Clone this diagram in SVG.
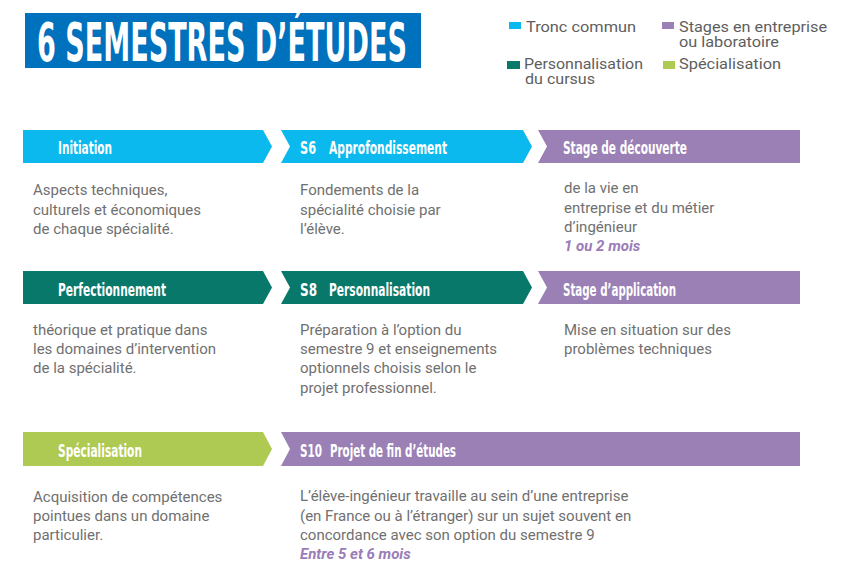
<svg xmlns="http://www.w3.org/2000/svg" width="852" height="563" viewBox="0 0 852 563">
<style>
.hd{font-family:"Liberation Sans Narrow","DejaVu Sans Condensed","Arial Narrow",sans-serif;font-weight:bold;font-size:18px;fill:#fff;font-stretch:condensed}
.bd{font-family:Roboto,"Liberation Sans",sans-serif;font-size:15px;fill:#707070}
.em{font-family:Roboto,"Liberation Sans",sans-serif;font-size:15px;fill:#9a7cb8;font-weight:bold;font-style:italic}
.lg{font-family:Roboto,"Liberation Sans",sans-serif;font-size:15.5px;fill:#5e5e5e}
.cy{fill:#0bb9ee}.tl{fill:#08786b}.pu{fill:#9b80b6}.gr{fill:#afca52}
</style>
<rect width="852" height="563" fill="#fff"/>
<g id="title">
<rect x="25" y="13" width="396" height="55" fill="#0071bc"/>
<text x="37" y="61" textLength="370" lengthAdjust="spacingAndGlyphs" style="font-family:'Liberation Sans Narrow','DejaVu Sans Condensed',sans-serif;font-weight:bold;font-size:54px;fill:#fff">6 SEMESTRES D’ÉTUDES</text>
</g>
<g id="legend">
<rect x="509" y="22" width="12" height="7" class="cy"/>
<text x="526" y="31.5" class="lg" textLength="110" lengthAdjust="spacingAndGlyphs">Tronc commun</text>
<rect x="662" y="22" width="12" height="7" class="pu"/>
<text x="679" y="31.5" class="lg" textLength="148" lengthAdjust="spacingAndGlyphs">Stages en entreprise</text>
<text x="679" y="46.5" class="lg" textLength="100" lengthAdjust="spacingAndGlyphs">ou laboratoire</text>
<rect x="507" y="61" width="13" height="8" class="tl"/>
<text x="524" y="68.5" class="lg" textLength="119" lengthAdjust="spacingAndGlyphs">Personnalisation</text>
<text x="525" y="83.5" class="lg" textLength="70" lengthAdjust="spacingAndGlyphs">du cursus</text>
<rect x="663" y="61" width="12" height="8" class="gr"/>
<text x="679" y="68.5" class="lg" textLength="102" lengthAdjust="spacingAndGlyphs">Spécialisation</text>
</g>
<g id="connectors"></g>
<g id="initiation">
<path d="M23 130H263L272 146.5L263 163H23Z" class="cy"/>
<text x="58" y="154" class="hd" textLength="54" lengthAdjust="spacingAndGlyphs">Initiation</text>
<text class="bd" x="33" y="195">Aspects techniques,</text>
<text class="bd" x="33" y="215">culturels et économiques</text>
<text class="bd" x="33" y="234">de chaque spécialité.</text>
</g>
<g id="s6">
<path d="M281 130H523L532 146.5L523 163H281L290 146.5Z" class="cy"/>
<text x="300" y="154" class="hd" textLength="16" lengthAdjust="spacingAndGlyphs">S6</text>
<text x="329" y="154" class="hd" textLength="118" lengthAdjust="spacingAndGlyphs">Approfondissement</text>
<text class="bd" x="300" y="195">Fondements de la</text>
<text class="bd" x="300" y="215">spécialité choisie par</text>
<text class="bd" x="300" y="234">l’élève.</text>
</g>
<g id="stage-decouverte">
<path d="M538 130H800V163H538L547 146.5Z" class="pu"/>
<text x="563" y="154" class="hd" textLength="124" lengthAdjust="spacingAndGlyphs">Stage de découverte</text>
<text class="bd" x="564" y="193">de la vie en</text>
<text class="bd" x="564" y="213">entreprise et du métier</text>
<text class="bd" x="564" y="232">d’ingénieur</text>
<text class="em" x="564" y="251">1 ou 2 mois</text>
</g>
<g id="perfectionnement">
<path d="M23 271H263L272 287.5L263 304H23Z" class="tl"/>
<text x="58" y="296" class="hd" textLength="108" lengthAdjust="spacingAndGlyphs">Perfectionnement</text>
<text class="bd" x="33" y="335">théorique et pratique dans</text>
<text class="bd" x="33" y="354">les domaines d’intervention</text>
<text class="bd" x="33" y="373">de la spécialité.</text>
</g>
<g id="s8">
<path d="M281 271H523L532 287.5L523 304H281L290 287.5Z" class="tl"/>
<text x="300" y="296" class="hd" textLength="17" lengthAdjust="spacingAndGlyphs">S8</text>
<text x="329" y="296" class="hd" textLength="101" lengthAdjust="spacingAndGlyphs">Personnalisation</text>
<text class="bd" x="300" y="335">Préparation à l’option du</text>
<text class="bd" x="300" y="354">semestre 9 et enseignements</text>
<text class="bd" x="300" y="373">optionnels choisis selon le</text>
<text class="bd" x="300" y="393">projet professionnel.</text>
</g>
<g id="stage-application">
<path d="M538 271H800V304H538L547 287.5Z" class="pu"/>
<text x="563" y="296" class="hd" textLength="113" lengthAdjust="spacingAndGlyphs">Stage d’application</text>
<text class="bd" x="564" y="335">Mise en situation sur des</text>
<text class="bd" x="564" y="354">problèmes techniques</text>
</g>
<g id="specialisation">
<path d="M23 432H263L272 449L263 466H23Z" class="gr"/>
<text x="58" y="457" class="hd" textLength="84" lengthAdjust="spacingAndGlyphs">Spécialisation</text>
<text class="bd" x="33" y="502">Acquisition de compétences</text>
<text class="bd" x="33" y="521">pointues dans un domaine</text>
<text class="bd" x="33" y="540">particulier.</text>
</g>
<g id="s10">
<path d="M281 432H800V466H281L290 449Z" class="pu"/>
<text x="300" y="457" class="hd" textLength="22" lengthAdjust="spacingAndGlyphs">S10</text>
<text x="330" y="457" class="hd" textLength="126" lengthAdjust="spacingAndGlyphs">Projet de fin d’études</text>
<text class="bd" x="300" y="501">L’élève-ingénieur travaille au sein d’une entreprise</text>
<text class="bd" x="300" y="521">(en France ou à l’étranger) sur un sujet souvent en</text>
<text class="bd" x="300" y="540">concordance avec son option du semestre 9</text>
<text class="em" x="300" y="559">Entre 5 et 6 mois</text>
</g>
</svg>
